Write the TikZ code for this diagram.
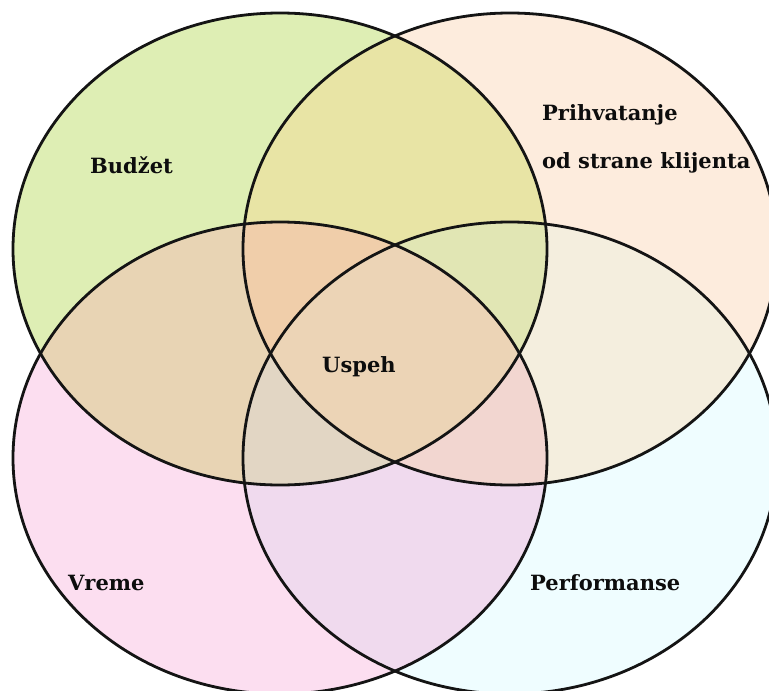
\documentclass[tikz,border=0pt]{standalone}
\usepackage{fontspec}
\setmainfont{DejaVu Serif}

% single-set colours
\definecolor{cTL}{RGB}{222,238,180}
\definecolor{cTR}{RGB}{253,236,221}
\definecolor{cBL}{RGB}{252,222,240}
\definecolor{cBR}{RGB}{239,253,255}
% pairwise overlaps
\definecolor{cTLTR}{RGB}{232,228,165}
\definecolor{cTLBL}{RGB}{232,212,180}
\definecolor{cTLBR}{RGB}{228,240,200}
\definecolor{cTRBL}{RGB}{245,215,205}
\definecolor{cTRBR}{RGB}{244,238,222}
\definecolor{cBLBR}{RGB}{240,218,238}
% triple overlaps
\definecolor{cTLTRBL}{RGB}{240,206,170}
\definecolor{cTLTRBR}{RGB}{225,230,180}
\definecolor{cTLBLBR}{RGB}{226,214,196}
\definecolor{cTRBLBR}{RGB}{242,214,208}
% all four
\definecolor{cALL}{RGB}{236,212,182}

\begin{document}
\begin{tikzpicture}[x=1pt,y=-1pt,
  outl/.style={draw=black!92, line width=2.8pt},
  lbl/.style={font=\bfseries\fontsize{21}{25}\selectfont, text=black!95,
              inner sep=0pt, anchor=base west}]
\useasboundingbox (0,0) rectangle (769,691);

\def\eTL{(280,249) ellipse [x radius=267pt, y radius=236pt]}
\def\eTR{(510,249) ellipse [x radius=267pt, y radius=236pt]}
\def\eBL{(280,458) ellipse [x radius=267pt, y radius=236pt]}
\def\eBR{(510,458) ellipse [x radius=267pt, y radius=236pt]}

% single sets
\fill[cTL] \eTL;
\fill[cTR] \eTR;
\fill[cBL] \eBL;
\fill[cBR] \eBR;

% pairs
\begin{scope}\clip \eTL; \fill[cTLTR] \eTR; \end{scope}
\begin{scope}\clip \eTL; \fill[cTLBL] \eBL; \end{scope}
\begin{scope}\clip \eTL; \fill[cTLBR] \eBR; \end{scope}
\begin{scope}\clip \eTR; \fill[cTRBL] \eBL; \end{scope}
\begin{scope}\clip \eTR; \fill[cTRBR] \eBR; \end{scope}
\begin{scope}\clip \eBL; \fill[cBLBR] \eBR; \end{scope}

% triples
\begin{scope}\clip \eTL; \clip \eTR; \fill[cTLTRBL] \eBL; \end{scope}
\begin{scope}\clip \eTL; \clip \eTR; \fill[cTLTRBR] \eBR; \end{scope}
\begin{scope}\clip \eTL; \clip \eBL; \fill[cTLBLBR] \eBR; \end{scope}
\begin{scope}\clip \eTR; \clip \eBL; \fill[cTRBLBR] \eBR; \end{scope}

% centre
\begin{scope}\clip \eTL; \clip \eTR; \clip \eBL; \fill[cALL] \eBR; \end{scope}

% outlines
\draw[outl] \eTL;
\draw[outl] \eTR;
\draw[outl] \eBL;
\draw[outl] \eBR;

% labels
\node[lbl] (budzet) at (90,173) {Budžet};
\node[lbl] (prih1)  at (542,120) {Prihvatanje};
\node[lbl] (prih2)  at (542,168) {od strane klijenta};
\node[lbl] (uspeh)  at (322,372) {Uspeh};
\node[lbl] (vreme)  at (68,590) {Vreme};
\node[lbl] (perf)   at (530,590) {Performanse};
\end{tikzpicture}
\end{document}
